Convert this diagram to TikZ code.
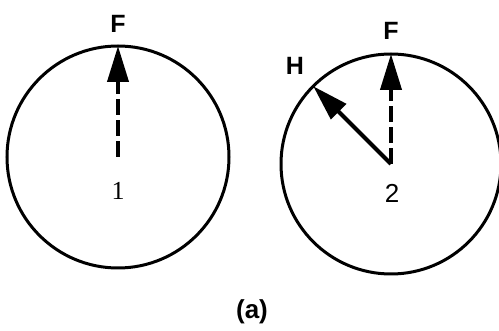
\documentclass[tikz,border=0pt]{standalone}
\usepackage{fontspec}
\setmainfont{Liberation Sans}
\newfontfamily\serifnum{Liberation Serif}
\usetikzlibrary{arrows.meta}
\begin{document}
\begin{tikzpicture}[x=1pt,y=-1pt,
  ring/.style={circle,draw,line width=3pt,inner sep=0pt,outer sep=0pt},
  vec/.style={line width=4pt,-{Triangle[length=36pt,width=21pt]}},
  dvec/.style={vec,dash pattern=on 16pt off 5pt},
  lbl/.style={font=\bfseries\fontsize{25}{27}\selectfont,inner sep=0pt},
  num/.style={font=\fontsize{26}{28}\selectfont,inner sep=0pt}]
\useasboundingbox (0,0) rectangle (499,331);
\node[ring,minimum size=222pt] (c1) at (118,157) {};
\node[ring,minimum size=220pt] (c2) at (391,164) {};
\draw[dvec] (c1.center) -- (c1.north);
\draw[dvec] (c2.center) -- (c2.north);
\draw[vec] (c2.center) -- (c2.135);
\node[lbl] (f1) at (118,24) {F};
\node[lbl] (f2) at (391,31) {F};
\node[lbl] (h) at (295,66) {H};
\node[num] (n1) at (118,191) {\serifnum 1};
\node[num] (n2) at (392,193) {2};
\node[num] (cap) at (252,312) {\bfseries(a)};
\end{tikzpicture}
\end{document}
